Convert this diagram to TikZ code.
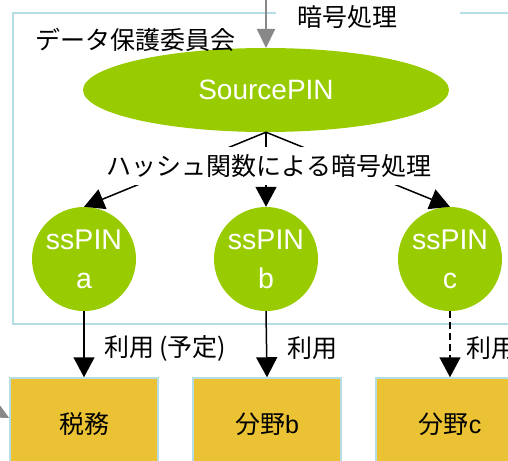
\documentclass[tikz,border=0pt]{standalone}
\usepackage{fontspec}
\setmainfont{Liberation Sans}
\newfontfamily\jp{Noto Sans CJK JP}
\usetikzlibrary{arrows.meta,shapes.geometric}
\definecolor{pingreen}{HTML}{99CC00}
\definecolor{boxgold}{HTML}{EAC234}
\definecolor{frameblue}{HTML}{B5DDE5}
\definecolor{arrowgray}{HTML}{888888}
\tikzset{
  bigtip/.style={-{Triangle[width=21pt,length=20pt]}},
  conn/.style={bigtip, line width=1.5pt, black},
  grayconn/.style={-{Triangle[width=18pt,length=19pt]}, line width=2pt, arrowgray},
  pincircle/.style={circle, fill=pingreen, minimum size=104pt, inner sep=0pt, text=white, font=\fontsize{28.5}{39}\selectfont, align=center},
  fieldbox/.style={rectangle, fill=boxgold, draw=frameblue, line width=1.5pt, minimum width=148pt, minimum height=92pt, inner sep=0pt, font=\fontsize{25}{30}\selectfont},
  jplabel/.style={font=\jp\fontsize{25}{28}\selectfont, inner sep=0pt},
}
\begin{document}
\begin{tikzpicture}[x=1pt,y=-1pt]
\useasboundingbox (0,0) rectangle (508,460);
\clip (0,0) rectangle (508,460);
% frame
\draw[frameblue, line width=1.5pt] (276,13) -- (13,13) -- (13,324) -- (520,324);
\draw[frameblue, line width=1.5pt] (460,13) -- (520,13);
% nodes
\node[ellipse, fill=pingreen, minimum width=366pt, minimum height=84pt, inner sep=0pt, text=white, font=\fontsize{28}{30}\selectfont] (src) at (266,90) {SourcePIN};
\node[pincircle] (pa) at (84,259) {ssPIN\\a};
\node[pincircle] (pb) at (266,259) {ssPIN\\b};
\node[pincircle] (pc) at (450,259) {ssPIN\\c};
\node[fieldbox] (fa) at (84,424) {{\jp 税務}};
\node[fieldbox] (fb) at (267,424) {{\jp 分野}b};
\node[fieldbox] (fc) at (450,424) {{\jp 分野}c};
\coordinate (topin) at (266,-5);
\coordinate (leftin) at (-25,400);
% texts
\node[jplabel, anchor=west] (committee) at (35,40) {データ保護委員会};
\node[jplabel, anchor=west] (enc) at (297,17) {暗号処理};
% connectors
\draw[grayconn] (topin) -- (src.south |- 0,48);
\draw[conn] (src.south) -- (pa.north);
\draw[conn] (src.south) -- (pb.north);
\draw[conn] (src.south) -- (pc.north);
\node[jplabel, fill=white, inner xsep=3pt, minimum height=38pt] (hash) at (269,166) {ハッシュ関数による暗号処理};
\draw[conn] (pa.south) -- (fa.north);
\draw[conn] (pb.south) -- (fb.north);
\draw[conn, dash pattern=on 7pt off 4pt] (pc.south) -- (fc.north);
\draw[grayconn] (leftin) -- (fa.west |- 0,418);
% usage labels
\node[jplabel, anchor=west] (ua) at (104,348) {利用\hspace{0.2em}(予定)};
\node[jplabel, anchor=west] (ub) at (287,348) {利用};
\node[jplabel, anchor=west] (uc) at (466,348) {利用};
\end{tikzpicture}
\end{document}
